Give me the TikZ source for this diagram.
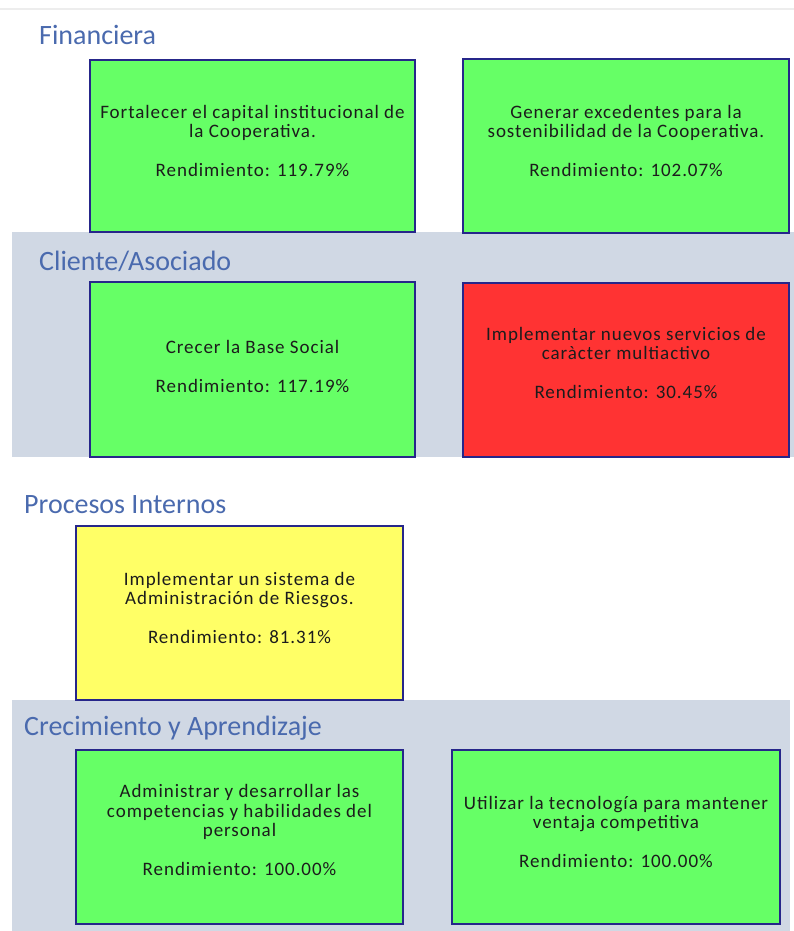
\documentclass[tikz,border=0pt]{standalone}
\usepackage{fontspec}
\setmainfont{Carlito}
\newfontfamily\boxfont[LetterSpace=5]{Carlito}
\definecolor{bandgray}{HTML}{D0D8E4}
\definecolor{titleblue}{HTML}{4A6AAE}
\definecolor{boxborder}{HTML}{26268A}
\definecolor{okgreen}{HTML}{66FF66}
\definecolor{badred}{HTML}{FF3333}
\definecolor{midyellow}{HTML}{FFFF66}
\definecolor{boxtext}{HTML}{1C1C1C}
\definecolor{topline}{HTML}{EDEDED}
\tikzset{
  band/.style={fill=bandgray, draw=none},
  goalbox/.style={draw=boxborder, line width=2.8pt},
  goaltext/.style={align=center, inner sep=0pt, text=boxtext,
    font=\boxfont\fontsize{19}{19.5}\selectfont},
  pertitle/.style={anchor=base west, inner sep=0pt, text=titleblue,
    font=\fontsize{28}{30}\selectfont},
}
\begin{document}
\begin{tikzpicture}[x=1pt,y=-1pt]
\useasboundingbox (0,0) rectangle (794,931);
% top rule
\draw[topline, line width=2pt] (0,9.5) -- (794,9.5);
% shaded bands
\path[band] (12,232) rectangle (794,457);
\path[band] (12,700) rectangle (790,931);
% titles
\node[pertitle] (tfin) at (39,45) {Financiera};
\node[pertitle] (tcli) at (39,270) {Cliente/Asociado};
\node[pertitle] (tpro) at (24,513) {Procesos Internos};
\node[pertitle] (tcre) at (24,735) {Crecimiento y Aprendizaje};
% boxes
\path[goalbox, fill=okgreen] (90,60) rectangle (415,232);
\node[goaltext] (b1) at (252.5,141) {Fortalecer el capital institucional de\\la Cooperativa.\\[19.5pt]Rendimiento: 119.79\%};
\path[goalbox, fill=okgreen] (463,59) rectangle (789,233);
\node[goaltext] (b2) at (626,141) {Generar excedentes para la\\sostenibilidad de la Cooperativa.\\[19.5pt]Rendimiento: 102.07\%};
\path[goalbox, fill=okgreen] (90,282) rectangle (415,457);
\node[goaltext] (b3) at (252.5,366.5) {Crecer la Base Social\\[19.5pt]Rendimiento: 117.19\%};
\path[goalbox, fill=badred] (463,283) rectangle (789,457);
\node[goaltext] (b4) at (626,363) {Implementar nuevos servicios de\\caràcter multiactivo\\[19.5pt]Rendimiento: 30.45\%};
\path[goalbox, fill=midyellow] (76,526) rectangle (403,700);
\node[goaltext] (b5) at (239.5,608) {Implementar un sistema de\\Administración de Riesgos.\\[19.5pt]Rendimiento: 81.31\%};
\path[goalbox, fill=okgreen] (76,750) rectangle (403,924);
\node[goaltext] (b6) at (239.5,830) {Administrar y desarrollar las\\competencias y habilidades del\\personal\\[19.5pt]Rendimiento: 100.00\%};
\path[goalbox, fill=okgreen] (452,750) rectangle (780,924);
\node[goaltext] (b7) at (616,832) {Utilizar la tecnología para mantener\\ventaja competitiva\\[19.5pt]Rendimiento: 100.00\%};
\end{tikzpicture}
\end{document}
